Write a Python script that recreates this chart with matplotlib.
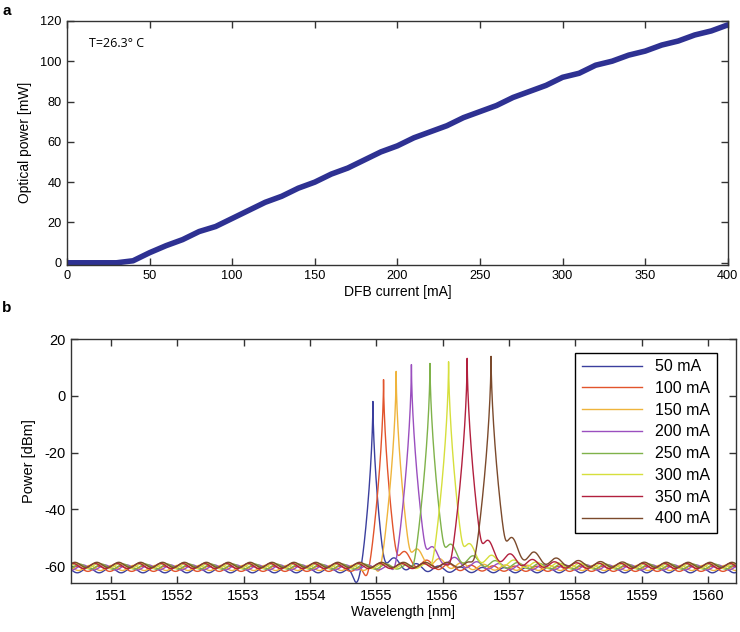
import numpy as np
import matplotlib
matplotlib.use("Agg")
import matplotlib.pyplot as plt

plt.rcParams['font.family'] = ['Liberation Sans', 'DejaVu Sans']
plt.rcParams['axes.unicode_minus'] = False

# panel a: L-I curve
current_ma = [0, 10, 20, 30, 40, 50, 60, 70, 80, 90, 100, 110, 120, 130, 140, 150,
              160, 170, 180, 190, 200, 210, 220, 230, 240, 250, 260, 270, 280, 290,
              300, 310, 320, 330, 340, 350, 360, 370, 380, 390, 400]
power_mw = [0, 0, 0, 0, 1, 5, 8.5, 11.5, 15.5, 18, 22, 26, 30, 33, 37, 40,
            44, 47, 51, 55, 58, 62, 65, 68, 72, 75, 78, 82, 85, 88,
            92, 94, 98, 100, 103, 105, 108, 110, 113, 115, 118]

# panel b: spectra
labels = ['50 mA', '100 mA', '150 mA', '200 mA', '250 mA', '300 mA', '350 mA', '400 mA']
peak_nm = [1554.95, 1555.11, 1555.30, 1555.53, 1555.81, 1556.09, 1556.37, 1556.73]
peak_dbm = [-2.0, 5.7, 8.6, 11.0, 11.4, 12.0, 13.2, 13.9]
floor_dbm = [-61.5, -61.0, -60.7, -60.5, -60.2, -60.0, -60.0, -59.6]
pedestal_db = [6, 9, 10, 11, 12, 12, 14, 15]
dip_db = [5, 4, 3, 3, 2.5, 2, 2, 1]
colors = ['#3b3f9e', '#e2542c', '#efb43c', '#9a4fbf', '#7fb24a', '#d6df3c', '#b2203e', '#7b4a2c']


def line_shape(wl, center, peak, floor, ped, dip):
    # OSA trace: sharp line on top of a rippled noise floor
    d = wl - center
    core = peak - 170 * np.abs(d) ** 0.6
    ripple = np.cos(2 * np.pi * d / 0.33)
    skirt = np.where(d > 0, ped * np.exp(-d / 0.38), 0.5 * ped * np.exp(d / 0.1))
    bg = floor + 0.9 * ripple + skirt * (1 + 0.35 * ripple) - dip * np.exp(-((d + 0.25) / 0.08) ** 2)
    return 10 * np.log10(10 ** (core / 10) + 10 ** (bg / 10))


fig = plt.figure(figsize=(7.4, 6.32), dpi=100)
spine_col = '#333333'


def style(ax, size):
    for s in ax.spines.values():
        s.set_color(spine_col)
        s.set_linewidth(1.0)
    ax.tick_params(direction='in', top=True, right=True, length=5, width=1,
                   color=spine_col, labelsize=size, pad=4)


ax1 = fig.add_axes([0.0905, 0.581, 0.893, 0.386])
ax1.plot(current_ma, power_mw, color='#2e3192', lw=4, solid_capstyle='round')
ax1.set_xlim(0, 400)
ax1.set_ylim(-1, 120)
ax1.set_xticks(range(0, 401, 50))
ax1.set_yticks(range(0, 121, 20))
ax1.set_xlabel('DFB current [mA]', fontsize=10, labelpad=2)
ax1.set_ylabel('Optical power [mW]', fontsize=10, labelpad=6)
ax1.text(0.034, 109, 'T=26.3° C', fontsize=9, family='Open Sans', va='center',
         transform=ax1.get_yaxis_transform())
style(ax1, 9.2)

ax2 = fig.add_axes([0.0959, 0.0775, 0.8986, 0.386])
wl = np.union1d(np.linspace(1550.4, 1560.42, 8000), peak_nm)
for i in range(len(labels)):
    ax2.plot(wl, line_shape(wl, peak_nm[i], peak_dbm[i], floor_dbm[i], pedestal_db[i], dip_db[i]),
             color=colors[i], lw=1.0, label=labels[i])
ax2.set_xlim(1550.4, 1560.42)
ax2.set_ylim(-66, 20)
ax2.set_xticks(range(1551, 1561))
ax2.set_yticks(range(-60, 21, 20))
ax2.set_xlabel('Wavelength [nm]', fontsize=10, labelpad=2)
ax2.set_ylabel('Power [dBm]', fontsize=10.5, labelpad=6)
style(ax2, 10.5)
leg = ax2.legend(loc='upper right', bbox_to_anchor=(0.971, 0.943), fontsize=11.5,
                 handlelength=3.8, labelspacing=0.42, fancybox=False, framealpha=1,
                 borderaxespad=0, borderpad=0.4)
leg.get_frame().set_edgecolor('black')
leg.get_frame().set_linewidth(1.0)

fig.text(0.003, 0.983, 'a', fontsize=11, fontweight='bold', va='center')
fig.text(0.003, 0.513, 'b', fontsize=11, fontweight='bold', va='center')

fig.savefig('out.png', dpi=100)
